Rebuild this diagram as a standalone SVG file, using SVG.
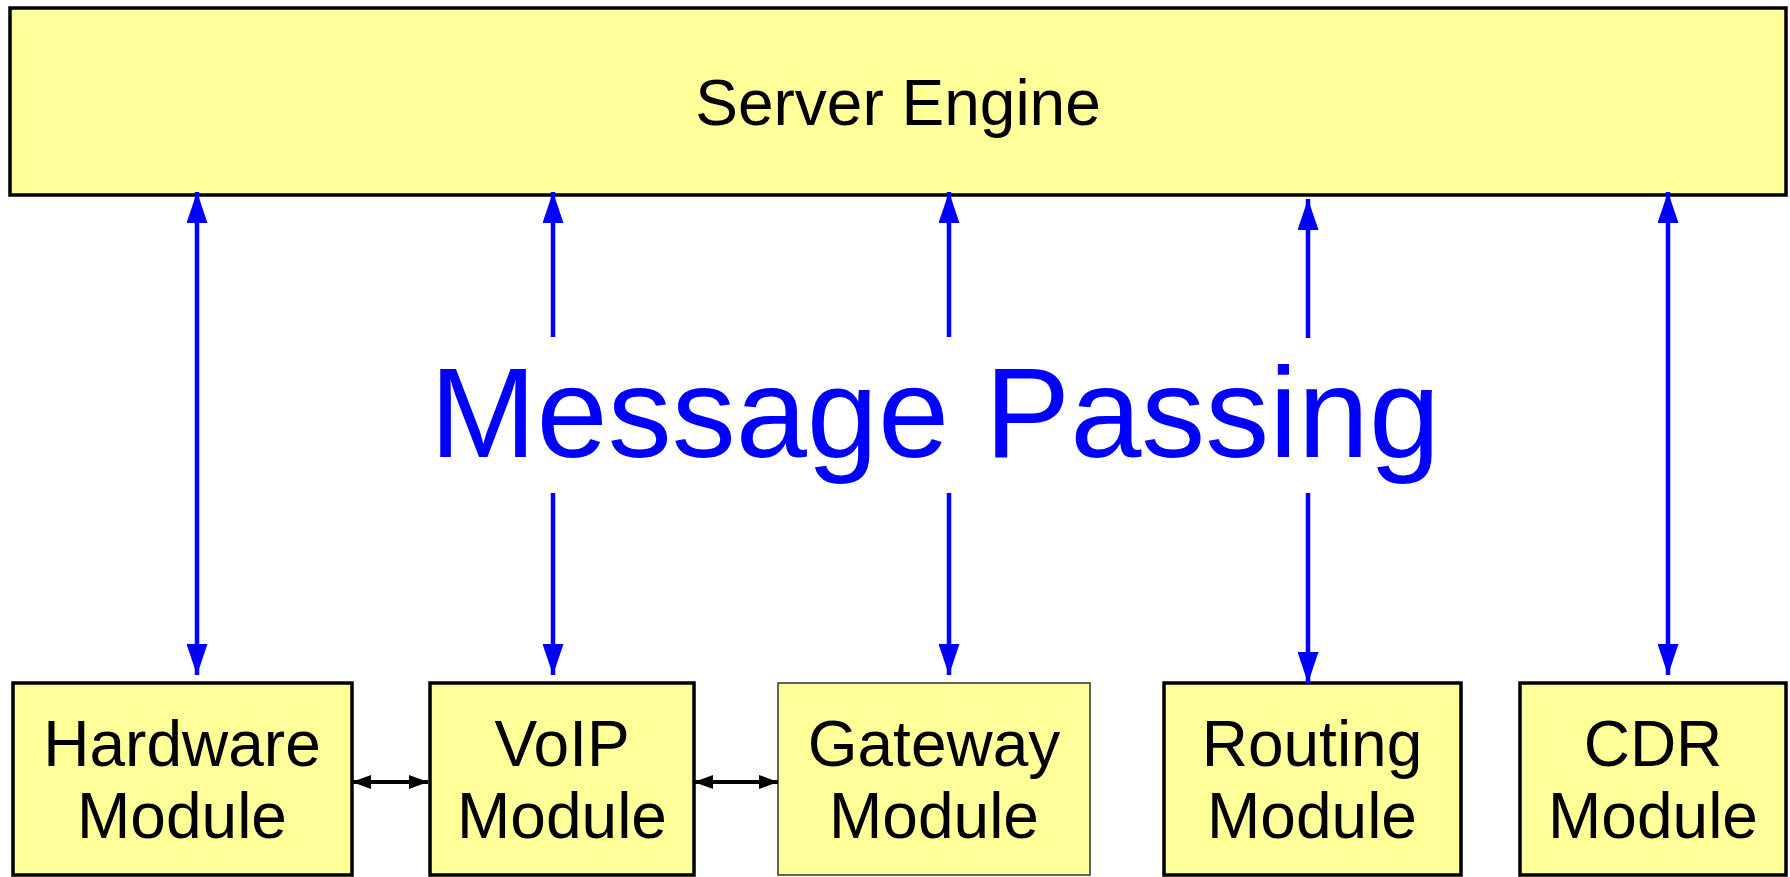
<svg xmlns="http://www.w3.org/2000/svg" width="1790" height="877" viewBox="0 0 1790 877">
<style>
.box{fill:#ffff99;stroke:#000;stroke-width:3.5}
.thin{fill:#ffff99;stroke:#333;stroke-width:1.5}
.t{font-family:"Liberation Sans",Arial,sans-serif;font-size:64px;fill:#000;text-anchor:middle}
.big{font-family:"Liberation Sans",Arial,sans-serif;font-size:128px;fill:#0000ff;text-anchor:middle}
.blue{stroke:#0000ff;stroke-width:4.5;fill:none}
.blk{stroke:#000;stroke-width:4;fill:none}
</style>
<defs>
<marker id="ab" markerUnits="userSpaceOnUse" markerWidth="31" markerHeight="21" refX="31" refY="10.5" orient="auto-start-reverse">
<path d="M0,0 L31,10.5 L0,21 z" fill="#0000ff"/>
</marker>
<marker id="ak" markerUnits="userSpaceOnUse" markerWidth="19" markerHeight="14" refX="19" refY="7" orient="auto-start-reverse">
<path d="M0,0 L19,7 L0,14 z" fill="#000"/>
</marker>
</defs>
<g id="server">
<rect class="box" x="10" y="8" width="1776" height="187"/>
<text class="t" x="898" y="125">Server Engine</text>
</g>
<g id="hardware">
<rect class="box" x="13" y="683" width="339" height="192"/>
<text class="t" x="182" y="766">Hardware</text>
<text class="t" x="182" y="838">Module</text>
</g>
<g id="voip">
<rect class="box" x="430" y="683" width="264" height="192"/>
<text class="t" x="562" y="766">VoIP</text>
<text class="t" x="562" y="838">Module</text>
</g>
<g id="gateway">
<rect class="thin" x="778" y="683" width="312" height="192"/>
<text class="t" x="934" y="766">Gateway</text>
<text class="t" x="934" y="838">Module</text>
</g>
<g id="routing">
<rect class="box" x="1164" y="683" width="297" height="192"/>
<text class="t" x="1312" y="766">Routing</text>
<text class="t" x="1312" y="838">Module</text>
</g>
<g id="cdr">
<rect class="box" x="1520" y="683" width="266" height="192"/>
<text class="t" x="1653" y="766">CDR</text>
<text class="t" x="1653" y="838">Module</text>
</g>
<g id="label">
<text class="big" x="935" y="457">Message Passing</text>
</g>
<g id="connectors">
<path class="blue" d="M197,675 V192" marker-start="url(#ab)" marker-end="url(#ab)"/>
<path class="blue" d="M553,337 V192" marker-end="url(#ab)"/>
<path class="blue" d="M553,493 V675" marker-end="url(#ab)"/>
<path class="blue" d="M949,337 V192" marker-end="url(#ab)"/>
<path class="blue" d="M949,493 V675" marker-end="url(#ab)"/>
<path class="blue" d="M1308,338 V199" marker-end="url(#ab)"/>
<path class="blue" d="M1308,493 V683" marker-end="url(#ab)"/>
<path class="blue" d="M1668,675 V192" marker-start="url(#ab)" marker-end="url(#ab)"/>
<path class="blk" d="M352,782 H428" marker-start="url(#ak)" marker-end="url(#ak)"/>
<path class="blk" d="M694,782 H778" marker-start="url(#ak)" marker-end="url(#ak)"/>
</g>
</svg>
